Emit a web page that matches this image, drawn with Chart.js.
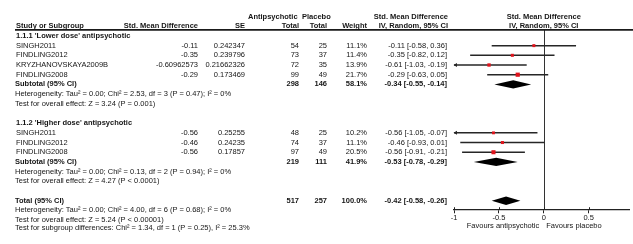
<!DOCTYPE html>
<html><head><meta charset="utf-8">
<script src="https://cdn.jsdelivr.net/npm/chart.js@4.4.1/dist/chart.umd.min.js"></script>
<style>html,body{margin:0;padding:0;background:#fff;overflow:hidden}canvas{display:block}</style>
</head><body>
<canvas id="c" width="633" height="244"></canvas>
<script>
// ---------------- data ----------------
const groupTitles = ["1.1.1 'Lower dose' antipsychotic", "1.1.2 'Higher dose' antipsychotic"];

const g1Names  = ['SINGH2011', 'FINDLING2012', 'KRYZHANOVSKAYA2009B', 'FINDLING2008'];
const g1SMD    = [-0.11, -0.35, -0.60962573, -0.29];
const g1SE     = [0.242347, 0.239796, 0.21662326, 0.173469];
const g1Ap     = [54, 73, 72, 99];
const g1Pl     = [25, 37, 35, 49];
const g1Weight = [11.1, 11.4, 13.9, 21.7];
const g1Lo     = [-0.58, -0.82, -1.03, -0.63];
const g1Hi     = [0.36, 0.12, -0.19, 0.05];

const g2Names  = ['SINGH2011', 'FINDLING2012', 'FINDLING2008'];
const g2SMD    = [-0.56, -0.46, -0.56];
const g2SE     = [0.25255, 0.24235, 0.17857];
const g2Ap     = [48, 74, 97];
const g2Pl     = [25, 37, 49];
const g2Weight = [10.2, 11.1, 20.5];
const g2Lo     = [-1.05, -0.93, -0.91];
const g2Hi     = [-0.07, 0.01, -0.21];

const subAp  = [298, 219];
const subPl  = [146, 111];
const subW   = [58.1, 41.9];
const subEst = [-0.34, -0.53];
const subLo  = [-0.55, -0.78];
const subHi  = [-0.14, -0.29];
const subHet = [
  'Heterogeneity: Tau\u00b2 = 0.00; Chi\u00b2 = 2.53, df = 3 (P = 0.47); I\u00b2 = 0%',
  'Heterogeneity: Tau\u00b2 = 0.00; Chi\u00b2 = 0.13, df = 2 (P = 0.94); I\u00b2 = 0%'
];
const subTest = [
  'Test for overall effect: Z = 3.24 (P = 0.001)',
  'Test for overall effect: Z = 4.27 (P < 0.0001)'
];

const totAp = 517, totPl = 257, totW = 100.0, totEst = -0.42, totLo = -0.58, totHi = -0.26;
const totHet  = 'Heterogeneity: Tau\u00b2 = 0.00; Chi\u00b2 = 4.00, df = 6 (P = 0.68); I\u00b2 = 0%';
const totTest = 'Test for overall effect: Z = 5.24 (P < 0.00001)';
const subgroupTest = 'Test for subgroup differences: Chi\u00b2 = 1.34, df = 1 (P = 0.25), I\u00b2 = 25.3%';

const xTickValues = [-1, -0.5, 0, 0.5, 1];
const xTickLabels = ['-1', '-0.5', '0', '0.5', '1'];
const favoursLeft = 'Favours antipsychotic';
const favoursRight = 'Favours placebo';

// ---------------- layout (rows) ----------------
const groups = [
  {names: g1Names, smd: g1SMD, se: g1SE, ap: g1Ap, pl: g1Pl, w: g1Weight, lo: g1Lo, hi: g1Hi, titleRow: 1},
  {names: g2Names, smd: g2SMD, se: g2SE, ap: g2Ap, pl: g2Pl, w: g2Weight, lo: g2Lo, hi: g2Hi, titleRow: 10}
];
const TOTAL_ROW = 18, AXIS_ROW = 18.93, HEADER_LINE_ROW = 0.37, SUBGROUP_ROW = 20.85;

const FONT = '"Liberation Sans", Arial, Helvetica, sans-serif';
const FS = 7.5;
const TXT = '#151515';
const NAME_X = 16, SUB_X = 15, SMD_R = 198, SE_R = 245, AP_R = 299, PL_R = 327, W_R = 367, CI_R = 447;

const pointData = [], pointRadii = [], lineSets = [], diamonds = [];
groups.forEach((g, gi) => {
  g.names.forEach((n, i) => {
    const row = g.titleRow + 1 + i;
    pointData.push({x: g.smd[i], y: row});
    pointRadii.push(0.9 * Math.sqrt(g.w[i]) / Math.SQRT2);
    lineSets.push({
      type: 'line', data: [{x: g.lo[i], y: row}, {x: g.hi[i], y: row}],
      borderColor: '#262626', borderWidth: 1.5, pointRadius: 0, showLine: true, order: 2
    });
  });
  g.subRow = g.titleRow + 1 + g.names.length;
  diamonds.push({est: subEst[gi], lo: subLo[gi], hi: subHi[gi], row: g.subRow});
});
diamonds.push({est: totEst, lo: totLo, hi: totHi, row: TOTAL_ROW});

function txt(ctx, s, x, y, align, bold, color) {
  ctx.font = (bold ? 'bold ' : '') + FS + 'px ' + FONT;
  ctx.textAlign = align;
  ctx.textBaseline = 'middle';
  ctx.fillStyle = color || TXT;
  ctx.fillText(s, x, y);
}
const ci = (e, l, h) => e.toFixed(2) + ' [' + l.toFixed(2) + ', ' + h.toFixed(2) + ']';

const forestPlugin = {
  id: 'forest',
  beforeDatasetsDraw(chart) {
    const {ctx, scales: {x, y}} = chart;
    const x0 = Math.round(x.getPixelForValue(0)) + 0.5;
    ctx.save();
    ctx.strokeStyle = '#333';
    ctx.lineWidth = 1;
    ctx.beginPath();
    ctx.moveTo(x0, y.getPixelForValue(HEADER_LINE_ROW));
    ctx.lineTo(x0, y.getPixelForValue(AXIS_ROW));
    ctx.stroke();
    ctx.restore();
  },
  afterDatasetsDraw(chart) {
    const {ctx, scales: {x, y}, chartArea} = chart;
    ctx.save();
    ctx.fillStyle = '#262626';
    groups.forEach(g => g.names.forEach((n, i) => {
      if (g.lo[i] < x.min) {
        const py = y.getPixelForValue(g.titleRow + 1 + i);
        const px = chartArea.left;
        ctx.beginPath();
        ctx.moveTo(px - 0.5, py);
        ctx.lineTo(px + 3, py - 2);
        ctx.lineTo(px + 3, py + 2);
        ctx.closePath();
        ctx.fill();
      }
    }));
    ctx.fillStyle = '#000';
    diamonds.forEach(d => {
      const py = y.getPixelForValue(d.row);
      ctx.beginPath();
      ctx.moveTo(x.getPixelForValue(d.lo), py);
      ctx.lineTo(x.getPixelForValue(d.est), py - 4.2);
      ctx.lineTo(x.getPixelForValue(d.hi), py);
      ctx.lineTo(x.getPixelForValue(d.est), py + 4.2);
      ctx.closePath();
      ctx.fill();
    });
    ctx.restore();
  },
  afterDraw(chart) {
    const {ctx, scales: {x, y}} = chart;
    const py = r => y.getPixelForValue(r);
    const x0 = x.getPixelForValue(0);
    ctx.save();
    txt(ctx, 'Antipsychotic', 248, py(-1), 'left', true);
    txt(ctx, 'Placebo', 302, py(-1), 'left', true);
    txt(ctx, 'Std. Mean Difference', CI_R + 1, py(-1), 'right', true);
    txt(ctx, 'Std. Mean Difference', x0, py(-1), 'center', true);
    txt(ctx, 'Study or Subgroup', NAME_X, py(0), 'left', true);
    txt(ctx, 'Std. Mean Difference', SMD_R, py(0), 'right', true);
    txt(ctx, 'SE', SE_R, py(0), 'right', true);
    txt(ctx, 'Total', AP_R, py(0), 'right', true);
    txt(ctx, 'Total', PL_R, py(0), 'right', true);
    txt(ctx, 'Weight', W_R, py(0), 'right', true);
    txt(ctx, 'IV, Random, 95% CI', CI_R + 1, py(0), 'right', true);
    txt(ctx, 'IV, Random, 95% CI', x0, py(0), 'center', true);
    ctx.strokeStyle = '#1a1a1a';
    ctx.lineWidth = 1.6;
    ctx.beginPath();
    ctx.moveTo(SUB_X, py(HEADER_LINE_ROW));
    ctx.lineTo(chart.width, py(HEADER_LINE_ROW));
    ctx.stroke();

    groups.forEach((g, gi) => {
      txt(ctx, groupTitles[gi], NAME_X, py(g.titleRow), 'left', true);
      g.names.forEach((n, i) => {
        const r = py(g.titleRow + 1 + i);
        txt(ctx, n, NAME_X, r, 'left', false);
        txt(ctx, String(g.smd[i]), SMD_R, r, 'right', false);
        txt(ctx, String(g.se[i]), SE_R, r, 'right', false);
        txt(ctx, String(g.ap[i]), AP_R, r, 'right', false);
        txt(ctx, String(g.pl[i]), PL_R, r, 'right', false);
        txt(ctx, g.w[i].toFixed(1) + '%', W_R, r, 'right', false);
        txt(ctx, ci(g.smd[i], g.lo[i], g.hi[i]), CI_R, r, 'right', false);
      });
      const s = py(g.subRow);
      txt(ctx, 'Subtotal (95% CI)', SUB_X, s, 'left', true);
      txt(ctx, String(subAp[gi]), AP_R, s, 'right', true);
      txt(ctx, String(subPl[gi]), PL_R, s, 'right', true);
      txt(ctx, subW[gi].toFixed(1) + '%', W_R, s, 'right', true);
      txt(ctx, ci(subEst[gi], subLo[gi], subHi[gi]), CI_R, s, 'right', true);
      txt(ctx, subHet[gi], SUB_X, py(g.subRow + 1), 'left', false);
      txt(ctx, subTest[gi], SUB_X, py(g.subRow + 2), 'left', false);
    });
    const t = py(TOTAL_ROW);
    txt(ctx, 'Total (95% CI)', SUB_X, t, 'left', true);
    txt(ctx, String(totAp), AP_R, t, 'right', true);
    txt(ctx, String(totPl), PL_R, t, 'right', true);
    txt(ctx, totW.toFixed(1) + '%', W_R, t, 'right', true);
    txt(ctx, ci(totEst, totLo, totHi), CI_R, t, 'right', true);
    txt(ctx, totHet, SUB_X, py(TOTAL_ROW + 1), 'left', false);
    txt(ctx, totTest, SUB_X, py(TOTAL_ROW + 2), 'left', false);
    txt(ctx, subgroupTest, SUB_X, py(SUBGROUP_ROW), 'left', false);

    const ay = py(AXIS_ROW);
    ctx.strokeStyle = '#222';
    ctx.lineWidth = 1;
    x.ticks.forEach(tk => {
      const px = Math.round(x.getPixelForValue(tk.value)) + 0.5;
      ctx.beginPath();
      ctx.moveTo(px, ay - 2.5);
      ctx.lineTo(px, ay);
      ctx.stroke();
    });
    txt(ctx, favoursLeft, x0 - 4.5, ay + 16.5, 'right', false);
    txt(ctx, favoursRight, x0 + 2.5, ay + 16.5, 'left', false);
    ctx.restore();
  }
};

new Chart(document.getElementById('c').getContext('2d'), {
  type: 'scatter',
  data: {
    datasets: [
      {data: pointData, pointStyle: 'rect', pointRadius: pointRadii, pointBackgroundColor: '#e0141c',
       pointBorderWidth: 0, pointBorderColor: '#e0141c', showLine: false, order: 0}
    ].concat(lineSets)
  },
  options: {
    responsive: false,
    animation: false,
    devicePixelRatio: 1,
    layout: {padding: {left: 454, right: 0, top: 0, bottom: 0}},
    plugins: {legend: {display: false}, tooltip: {enabled: false}},
    scales: {
      x: {
        type: 'linear', min: -1, max: 0.95,
        position: {y: AXIS_ROW},
        afterBuildTicks: sc => { sc.ticks = xTickValues.filter(v => v >= sc.min && v <= sc.max).map(v => ({value: v})); },
        ticks: {
          font: {size: FS, family: FONT}, color: TXT, padding: 1, maxRotation: 0, autoSkip: false,
          callback: v => xTickLabels[xTickValues.indexOf(v)]
        },
        grid: {drawOnChartArea: false, drawTicks: true, tickLength: 3, color: '#222', lineWidth: 1},
        border: {display: true, color: '#222', width: 1.3}
      },
      y: {type: 'linear', min: -2.295, max: 22.056, reverse: true, display: false}
    }
  },
  plugins: [forestPlugin]
});
</script>
</body></html>
